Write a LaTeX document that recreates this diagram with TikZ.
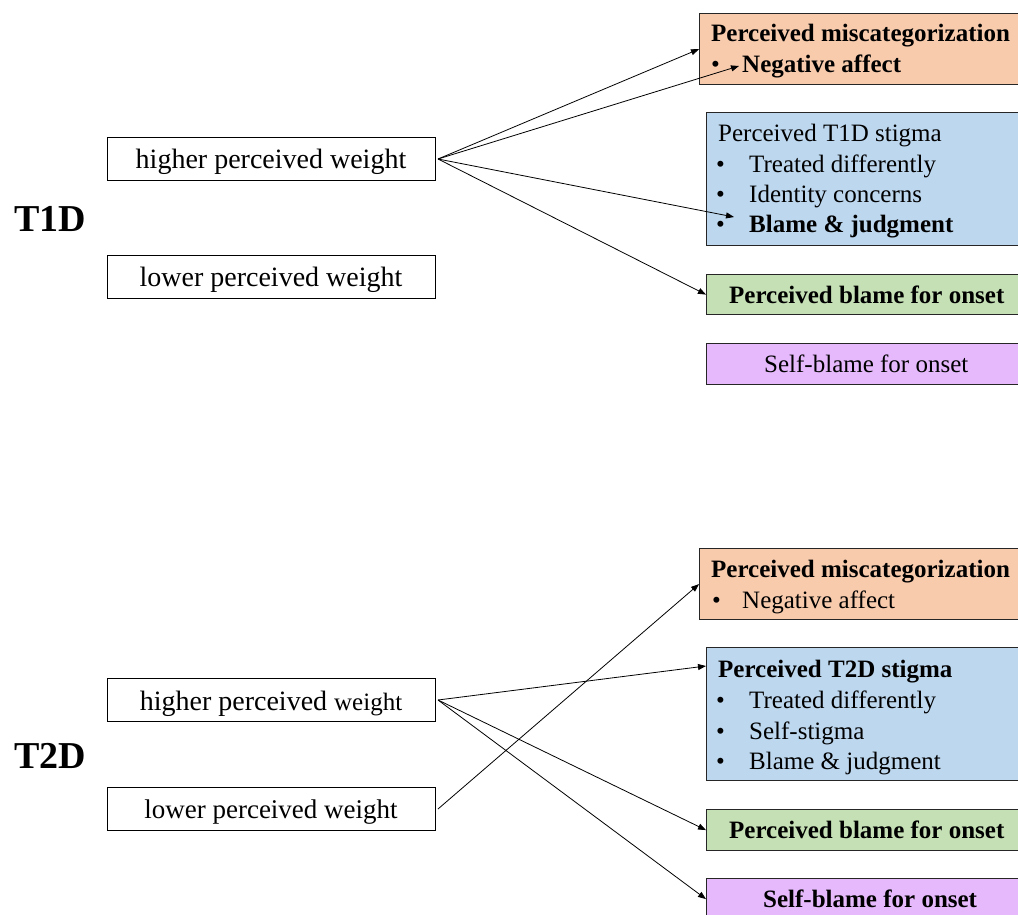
\documentclass[tikz,border=0pt]{standalone}
\usepackage{fontspec}
\setmainfont{Liberation Serif}
\usetikzlibrary{arrows.meta}
\definecolor{cOr}{HTML}{F8CBAD}
\definecolor{cBl}{HTML}{BDD7EE}
\definecolor{cGr}{HTML}{C5E0B4}
\definecolor{cPu}{HTML}{E5B9FB}
\newcommand{\rr}{\fontsize{25}{30}\selectfont}
\newcommand{\rbf}{\fontsize{25}{30}\selectfont\bfseries}
\newcommand{\lr}{\fontsize{28}{32}\selectfont}
\tikzset{
  rbox/.style={draw=black!85, line width=1.2pt, inner sep=0pt, anchor=north west, minimum width=340pt},
  lbox/.style={draw=black, line width=1pt, fill=white, inner sep=0pt, anchor=north west, minimum width=328pt, minimum height=43pt},
  ln/.style={anchor=base west, inner sep=0pt, font=\rr},
  lnb/.style={anchor=base west, inner sep=0pt, font=\rbf},
  ctr/.style={anchor=base, inner sep=0pt, font=\lr},
  big/.style={anchor=base west, inner sep=0pt, font=\fontsize{38}{40}\selectfont\bfseries},
  arr/.style={draw=black, line width=0.8pt, -{Triangle[length=8pt,width=6pt]}}
}
\begin{document}
\begin{tikzpicture}[x=1pt,y=-1pt]
\useasboundingbox (0,0) rectangle (1018,915);
\clip (0,0) rectangle (1018,915);
\fill[white] (0,0) rectangle (1018,915);

% ---------------- T1D ----------------
\node[big] (t1) at (14,231) {T1D};
\node[lbox] (h1) at (107,137) {};
\node[ctr] (h1t) at (271,168) {higher perceived weight};
\node[lbox] (l1) at (107,255) {};
\node[ctr] (l1t) at (271,286) {lower perceived weight};

\node[rbox, fill=cOr, minimum height=71pt] (o1) at (699,13) {};
\node[lnb] (o1a) at (711,42) {Perceived miscategorization};
\node[ln] (o1b) at (711,73) {\textbullet};
\node[lnb] (o1c) at (742,73) {Negative affect};

\node[rbox, fill=cBl, minimum height=133pt] (b1) at (706,112) {};
\node[ln] (b1a) at (718,142) {Perceived T1D stigma};
\node[ln] (b1b) at (716,173) {\textbullet};
\node[ln] (b1c) at (749,173) {Treated differently};
\node[ln] (b1d) at (716,203) {\textbullet};
\node[ln] (b1e) at (749,203) {Identity concerns};
\node[ln] (b1f) at (716,233) {\textbullet};
\node[lnb] (b1g) at (749,233) {Blame \& judgment};

\node[rbox, fill=cGr, minimum height=40pt] (g1) at (706,274) {};
\node[lnb] (g1a) at (729,303) {Perceived blame for onset};

\node[rbox, fill=cPu, minimum height=41pt] (p1) at (706,343) {};
\node[ln] (p1a) at (764,372) {Self-blame for onset};

\coordinate (e12) at (739,66);
\coordinate (e13) at (734,217);
\draw[arr] ([xshift=2pt]h1.east) -- (o1.west);
\draw[arr] ([xshift=2pt]h1.east) -- (e12);
\draw[arr] ([xshift=2pt]h1.east) -- (e13);
\draw[arr] ([xshift=2pt]h1.east) -- (g1.west);

% ---------------- T2D ----------------
\node[big] (t2) at (14,768) {T2D};
\node[lbox] (h2) at (107,678) {};
\node[ctr] (h2t) at (271,710) {higher perceived {\fontsize{25}{30}\selectfont weight}};
\node[lbox] (l2) at (107,787) {};
\node[ctr, font=\fontsize{27}{30}\selectfont] (l2t) at (271,818) {lower perceived weight};

\node[rbox, fill=cOr, minimum height=71pt] (o2) at (699,548) {};
\node[lnb] (o2a) at (711,577) {Perceived miscategorization};
\node[ln] (o2b) at (712,608) {\textbullet};
\node[ln] (o2c) at (742,608) {Negative affect};

\node[rbox, fill=cBl, minimum height=133pt] (b2) at (706,647) {};
\node[lnb] (b2a) at (718,677) {Perceived T2D stigma};
\node[ln] (b2b) at (716,708) {\textbullet};
\node[ln] (b2c) at (749,708) {Treated differently};
\node[ln] (b2d) at (716,739) {\textbullet};
\node[ln] (b2e) at (749,739) {Self-stigma};
\node[ln] (b2f) at (716,769) {\textbullet};
\node[ln] (b2g) at (749,769) {Blame \& judgment};

\node[rbox, fill=cGr, minimum height=41pt] (g2) at (706,809) {};
\node[lnb] (g2a) at (729,838) {Perceived blame for onset};

\node[rbox, fill=cPu, minimum height=41pt] (p2) at (706,878) {};
\node[lnb] (p2a) at (763,907) {Self-blame for onset};

\coordinate (e21) at (706,666);
\draw[arr] ([xshift=2pt]h2.east) -- (e21);
\draw[arr] ([xshift=2pt]h2.east) -- (g2.west);
\draw[arr] ([xshift=2pt]h2.east) -- (p2.west);
\draw[arr] ([xshift=2pt]l2.east) -- (o2.west);
\end{tikzpicture}
\end{document}
